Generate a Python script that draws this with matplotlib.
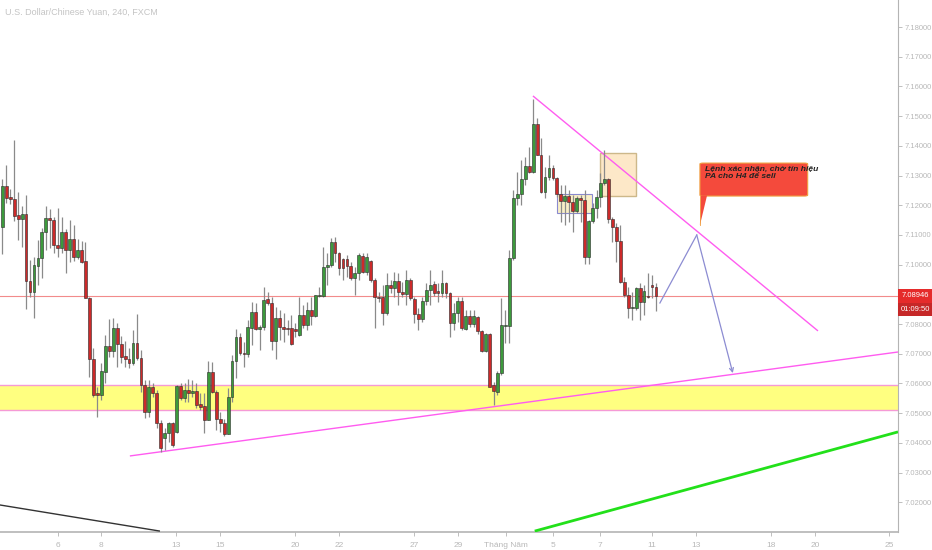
import matplotlib
matplotlib.use("Agg")
import matplotlib.pyplot as plt
from matplotlib.patches import Rectangle, FancyBboxPatch, Polygon
import matplotlib.transforms as mtransforms
import numpy as np

plt.rcParams['font.family'] = ['Liberation Sans', 'DejaVu Sans']

# USD/CNH 4H candles
opens = [
    7.1126, 7.1265, 7.1228, 7.1221, 7.1167, 7.1154, 7.1171, 7.0945, 7.0908, 7.0995,
    7.1022, 7.1110, 7.1157, 7.1150, 7.1066, 7.1056, 7.1110, 7.1049, 7.1086, 7.1026,
    7.1049, 7.1012, 7.0888, 7.0683, 7.0568, 7.0561, 7.0639, 7.0726, 7.0709, 7.0787,
    7.0733, 7.0692, 7.0683, 7.0669, 7.0736, 7.0686, 7.0595, 7.0504, 7.0588, 7.0568,
    7.0467, 7.0416, 7.0433, 7.0467, 7.0436, 7.0591, 7.0551, 7.0578, 7.0568, 7.0575,
    7.0531, 7.0524, 7.0477, 7.0639, 7.0571, 7.0480, 7.0467, 7.0430, 7.0554, 7.0676,
    7.0756, 7.0703, 7.0699, 7.0787, 7.0841, 7.0783, 7.0790, 7.0884, 7.0871, 7.0743,
    7.0820, 7.0790, 7.0787, 7.0787, 7.0783, 7.0763, 7.0830, 7.0797, 7.0847, 7.0827,
    7.0894, 7.0894, 7.0992, 7.0999, 7.1076, 7.1039, 7.1019, 7.1019, 7.0995, 7.0955,
    7.0972, 7.1029, 7.0975, 7.1012, 7.0948, 7.0891, 7.0891, 7.0837, 7.0931, 7.0921,
    7.0945, 7.0908, 7.0901, 7.0948, 7.0884, 7.0834, 7.0817, 7.0878, 7.0915, 7.0935,
    7.0911, 7.0905, 7.0938, 7.0905, 7.0804, 7.0837, 7.0878, 7.0783, 7.0827, 7.0800,
    7.0824, 7.0776, 7.0709, 7.0766, 7.0595, 7.0571, 7.0635, 7.0793, 7.0793, 7.1022,
    7.1225, 7.1238, 7.1288, 7.1332, 7.1312, 7.1474, 7.1369, 7.1245, 7.1295, 7.1325,
    7.1292, 7.1238, 7.1214, 7.1231, 7.1211, 7.1181, 7.1225, 7.1218, 7.1026, 7.1147,
    7.1191, 7.1228, 7.1275, 7.1288, 7.1154, 7.1127, 7.1079, 7.0941, 7.0898, 7.0854,
    7.0854, 7.0921, 7.0874, 7.0894, 7.0931, 7.0925,
]
highs = [
    7.1289, 7.1335, 7.1255, 7.1420, 7.1245, 7.1197, 7.1235, 7.1016, 7.1026, 7.1083,
    7.1123, 7.1197, 7.1187, 7.1160, 7.1191, 7.1160, 7.1120, 7.1150, 7.1133, 7.1086,
    7.1079, 7.1076, 7.0891, 7.0720, 7.0588, 7.0669, 7.0763, 7.0817, 7.0820, 7.0804,
    7.0760, 7.0743, 7.0720, 7.0780, 7.0834, 7.0713, 7.0612, 7.0612, 7.0602, 7.0578,
    7.0477, 7.0450, 7.0470, 7.0470, 7.0595, 7.0602, 7.0602, 7.0615, 7.0612, 7.0602,
    7.0568, 7.0568, 7.0676, 7.0672, 7.0578, 7.0504, 7.0480, 7.0585, 7.0696, 7.0783,
    7.0770, 7.0740, 7.0814, 7.0874, 7.0871, 7.0797, 7.0925, 7.0908, 7.0891, 7.0857,
    7.0847, 7.0837, 7.0814, 7.0830, 7.0804, 7.0891, 7.0864, 7.0874, 7.0891, 7.0898,
    7.0925, 7.1059, 7.1039, 7.1090, 7.1093, 7.1042, 7.1022, 7.1032, 7.1009, 7.0992,
    7.1039, 7.1039, 7.1039, 7.1016, 7.0955, 7.0908, 7.0931, 7.0972, 7.0948, 7.0975,
    7.0972, 7.0941, 7.0982, 7.0955, 7.0891, 7.0854, 7.0891, 7.0938, 7.0982, 7.0945,
    7.0938, 7.0982, 7.0941, 7.0908, 7.0871, 7.0891, 7.0891, 7.0847, 7.0847, 7.0847,
    7.0827, 7.0780, 7.0770, 7.0770, 7.0605, 7.0642, 7.0888, 7.0847, 7.1049, 7.1251,
    7.1312, 7.1352, 7.1362, 7.1396, 7.1558, 7.1494, 7.1426, 7.1329, 7.1369, 7.1335,
    7.1295, 7.1268, 7.1268, 7.1251, 7.1235, 7.1231, 7.1235, 7.1251, 7.1150, 7.1208,
    7.1251, 7.1309, 7.1386, 7.1292, 7.1160, 7.1140, 7.1133, 7.0958, 7.0925, 7.0908,
    7.0925, 7.0938, 7.0931, 7.0972, 7.0965, 7.0938,
]
lows = [
    7.1036, 7.1208, 7.1204, 7.1147, 7.1083, 7.1059, 7.0850, 7.0891, 7.0820, 7.0932,
    7.0955, 7.1049, 7.1056, 7.1039, 7.1026, 7.1039, 7.0972, 7.1009, 7.1012, 7.1019,
    7.1005, 7.0888, 7.0622, 7.0554, 7.0487, 7.0544, 7.0602, 7.0689, 7.0689, 7.0655,
    7.0669, 7.0655, 7.0652, 7.0662, 7.0679, 7.0571, 7.0484, 7.0487, 7.0554, 7.0450,
    7.0369, 7.0376, 7.0403, 7.0386, 7.0433, 7.0544, 7.0537, 7.0537, 7.0554, 7.0517,
    7.0511, 7.0433, 7.0477, 7.0568, 7.0443, 7.0436, 7.0423, 7.0430, 7.0537, 7.0618,
    7.0696, 7.0655, 7.0689, 7.0729, 7.0780, 7.0713, 7.0780, 7.0864, 7.0713, 7.0683,
    7.0746, 7.0740, 7.0763, 7.0729, 7.0756, 7.0760, 7.0787, 7.0780, 7.0797, 7.0824,
    7.0891, 7.0891, 7.0932, 7.0992, 7.1009, 7.0965, 7.0948, 7.0958, 7.0948, 7.0898,
    7.0948, 7.0972, 7.0965, 7.0941, 7.0787, 7.0874, 7.0797, 7.0830, 7.0905, 7.0891,
    7.0864, 7.0891, 7.0864, 7.0881, 7.0804, 7.0780, 7.0807, 7.0864, 7.0864, 7.0894,
    7.0874, 7.0891, 7.0888, 7.0756, 7.0780, 7.0807, 7.0780, 7.0780, 7.0790, 7.0790,
    7.0766, 7.0706, 7.0706, 7.0588, 7.0527, 7.0561, 7.0629, 7.0736, 7.0736, 7.1016,
    7.1201, 7.1201, 7.1268, 7.1309, 7.1309, 7.1369, 7.1241, 7.1225, 7.1285, 7.1285,
    7.1228, 7.1144, 7.1133, 7.1144, 7.1110, 7.1174, 7.1144, 7.1002, 7.1002, 7.1140,
    7.1157, 7.1194, 7.1268, 7.1140, 7.1076, 7.1009, 7.0938, 7.0891, 7.0820, 7.0814,
    7.0847, 7.0814, 7.0830, 7.0888, 7.0888, 7.0844,
]
closes = [
    7.1265, 7.1225, 7.1221, 7.1164, 7.1154, 7.1171, 7.0945, 7.0908, 7.0999, 7.1022,
    7.1110, 7.1157, 7.1150, 7.1066, 7.1056, 7.1110, 7.1049, 7.1086, 7.1026, 7.1049,
    7.1009, 7.0888, 7.0683, 7.0561, 7.0561, 7.0642, 7.0726, 7.0709, 7.0787, 7.0733,
    7.0689, 7.0683, 7.0669, 7.0736, 7.0686, 7.0595, 7.0504, 7.0588, 7.0568, 7.0467,
    7.0383, 7.0433, 7.0467, 7.0393, 7.0591, 7.0551, 7.0578, 7.0568, 7.0575, 7.0527,
    7.0521, 7.0477, 7.0639, 7.0571, 7.0480, 7.0467, 7.0430, 7.0554, 7.0676, 7.0756,
    7.0703, 7.0699, 7.0790, 7.0841, 7.0783, 7.0790, 7.0881, 7.0871, 7.0743, 7.0820,
    7.0790, 7.0783, 7.0783, 7.0733, 7.0776, 7.0830, 7.0797, 7.0847, 7.0827, 7.0898,
    7.0898, 7.0992, 7.0999, 7.1076, 7.1039, 7.0989, 7.0989, 7.0995, 7.0955, 7.0972,
    7.1032, 7.0975, 7.1026, 7.0948, 7.0891, 7.0888, 7.0837, 7.0931, 7.0921, 7.0945,
    7.0908, 7.0901, 7.0948, 7.0888, 7.0834, 7.0817, 7.0878, 7.0915, 7.0931, 7.0905,
    7.0905, 7.0938, 7.0905, 7.0804, 7.0837, 7.0878, 7.0787, 7.0827, 7.0800, 7.0827,
    7.0776, 7.0709, 7.0766, 7.0588, 7.0575, 7.0635, 7.0797, 7.0797, 7.1022, 7.1225,
    7.1238, 7.1288, 7.1332, 7.1312, 7.1474, 7.1369, 7.1245, 7.1295, 7.1325, 7.1292,
    7.1238, 7.1214, 7.1231, 7.1211, 7.1181, 7.1225, 7.1218, 7.1026, 7.1147, 7.1191,
    7.1228, 7.1275, 7.1288, 7.1154, 7.1127, 7.1079, 7.0941, 7.0898, 7.0854, 7.0857,
    7.0921, 7.0874, 7.0911, 7.0891, 7.0925, 7.08946,
]

# date ticks (position in bars from the first candle)
tick_pos = [14.1, 24.9, 43.8, 55.0, 73.9, 85.0, 103.9, 115.0, 127.1, 139.0,
            150.9, 164.0, 175.1, 194.0, 205.1, 223.8]
tick_labels = ['6', '8', '13', '15', '20', '22', '27', '29', 'Tháng Năm', '5',
               '7', '11', '13', '18', '20', '25']
price_ticks = [7.02, 7.03, 7.04, 7.05, 7.06, 7.07, 7.08, 7.10, 7.11, 7.12,
               7.13, 7.14, 7.15, 7.16, 7.17, 7.18]

last_price = 7.08946
zone = (7.0511, 7.0595)

# drawings on the chart, (bar, price)
desc_trend = [(133.95, 7.1568), (205.9, 7.0777)]
asc_trend = [(32.2, 7.0356), (226.1, 7.0706)]
green_trend = [(134.4, 7.0103), (226.1, 7.0437)]
dark_trend = [(-0.6, 7.0191), (39.8, 7.0103)]
arrow_path = [(166.0, 7.0871), (175.3, 7.1100), (184.4, 7.0635)]
orange_box = (150.9, 7.1231, 159.95, 7.1376)
blue_box = (139.9, 7.1174, 148.9, 7.1238)
callout = (176.1, 7.1231, 203.3, 7.1342)
callout_text = 'Lệnh xác nhận, chờ tín hiệu\nPA cho H4 để sell'

fig = plt.figure(figsize=(9.32, 5.5), dpi=100)
ax = fig.add_axes([0, 18 / 550, 898 / 932, 532 / 550])
ax.set_xlim(-0.58, 226.1)
ax.set_ylim(7.0100, 7.1891)

# zone + horizontal line
ax.axhspan(zone[0], zone[1], color='#ffff80', zorder=1, lw=0)
ax.axhline(zone[0], color='#f59ad6', lw=1.0, zorder=2)
ax.axhline(zone[1], color='#f59ad6', lw=1.0, zorder=2)
ax.axhline(last_price, color='#f28b8b', lw=0.8, zorder=2)

# trend lines
for pts, col, lw in [(desc_trend, '#ff5cf0', 1.0), (asc_trend, '#ff5cf0', 1.0),
                     (green_trend, '#22e01a', 2.0), (dark_trend, '#333333', 1.0)]:
    xs, ys = zip(*pts)
    ax.plot(xs, ys, color=col, lw=lw, zorder=3, solid_capstyle='butt')

# boxes
x0, y0, x1, y1 = orange_box
ax.add_patch(Rectangle((x0, y0), x1 - x0, y1 - y0, facecolor='#fde8c8',
                       edgecolor='#cdb88a', lw=1.0, zorder=2))
x0, y0, x1, y1 = blue_box
ax.add_patch(Rectangle((x0, y0), x1 - x0, y1 - y0, facecolor='#f9efc6',
                       edgecolor='#8a8ad0', lw=0.8, zorder=2))

# candles
x = np.arange(len(closes))
o = np.array(opens)
c = np.array(closes)
up = c >= o
cols = np.where(up, '#3c9a3c', '#cc2a2a')
ax.vlines(x, lows, highs, color='#8a8a8a', lw=0.9, zorder=4)
body = np.maximum(np.abs(c - o), 0.00025)
ax.bar(x, body, bottom=np.minimum(o, c), width=0.72, color=cols,
       edgecolor='#2a2a2a', lw=0.4, zorder=5)

# projected path
ax.plot([p[0] for p in arrow_path[:2]], [p[1] for p in arrow_path[:2]],
        color='#8c8cd2', lw=0.9, zorder=6)
ax.annotate('', xy=arrow_path[2], xytext=arrow_path[1],
            arrowprops=dict(arrowstyle='->', color='#8c8cd2', lw=0.9,
                            shrinkA=0, shrinkB=0, mutation_scale=7), zorder=6)

# callout
x0, y0, x1, y1 = callout
ax.add_patch(FancyBboxPatch((x0, y0), x1 - x0, y1 - y0,
                            boxstyle='round,pad=0,rounding_size=0.8',
                            mutation_aspect=0.0004,
                            facecolor='#f44a3c', edgecolor='#f0a040', lw=0.8, zorder=7))
ax.add_patch(Polygon([(x0 + 0.2, y0 + 0.0002), (x0 + 1.8, y0 + 0.0002), (x0, 7.1133)],
                     closed=True, facecolor='#f44a3c', edgecolor='none', zorder=7))
ax.plot([x0, x0], [y0, 7.1133], color='#f0a040', lw=0.6, zorder=7)
ax.text(x0 + 1.2, y1 - 0.0011, callout_text, fontsize=6.1, fontstyle='italic',
        fontweight='bold', color='#222222', va='top', ha='left', linespacing=1.0,
        zorder=8)

# axes styling
for s in ['top', 'left']:
    ax.spines[s].set_visible(False)
ax.spines['right'].set_color('#b4b4b4')
ax.spines['bottom'].set_color('#b4b4b4')
ax.spines['right'].set_linewidth(0.8)
ax.spines['bottom'].set_linewidth(1.2)
ax.yaxis.tick_right()
ax.set_yticks(price_ticks)
ax.set_yticklabels(['%.5f' % p for p in price_ticks])
ax.set_xticks(tick_pos)
ax.set_xticklabels(tick_labels)
ax.tick_params(axis='y', colors='#b4b4b4', labelcolor='#b8b8b8', labelsize=5.5,
               length=3, width=0.6, pad=2)
ax.tick_params(axis='x', colors='#b4b4b4', labelcolor='#b8b8b8', labelsize=6,
               length=3, width=0.6, pad=4)

# last price tags
trans = mtransforms.blended_transform_factory(ax.transAxes, ax.transData)
ax.text(1.0035, last_price, '7.08946', transform=trans, fontsize=5.5, color='white',
        va='center', ha='left',
        bbox=dict(boxstyle='square,pad=0.4', facecolor='#e52b2b', edgecolor='none'),
        clip_on=False, zorder=10)
ax.text(1.0035, last_price - 0.0045, '01:09:50', transform=trans, fontsize=5.5,
        color='white', va='center', ha='left',
        bbox=dict(boxstyle='square,pad=0.4', facecolor='#c62828', edgecolor='none'),
        clip_on=False, zorder=10)

fig.text(5 / 932, 1 - 12 / 550, 'U.S. Dollar/Chinese Yuan, 240, FXCM', fontsize=6.5,
         color='#c4c4c4', va='center', ha='left')

fig.savefig('out.png', dpi=100, facecolor='white')
